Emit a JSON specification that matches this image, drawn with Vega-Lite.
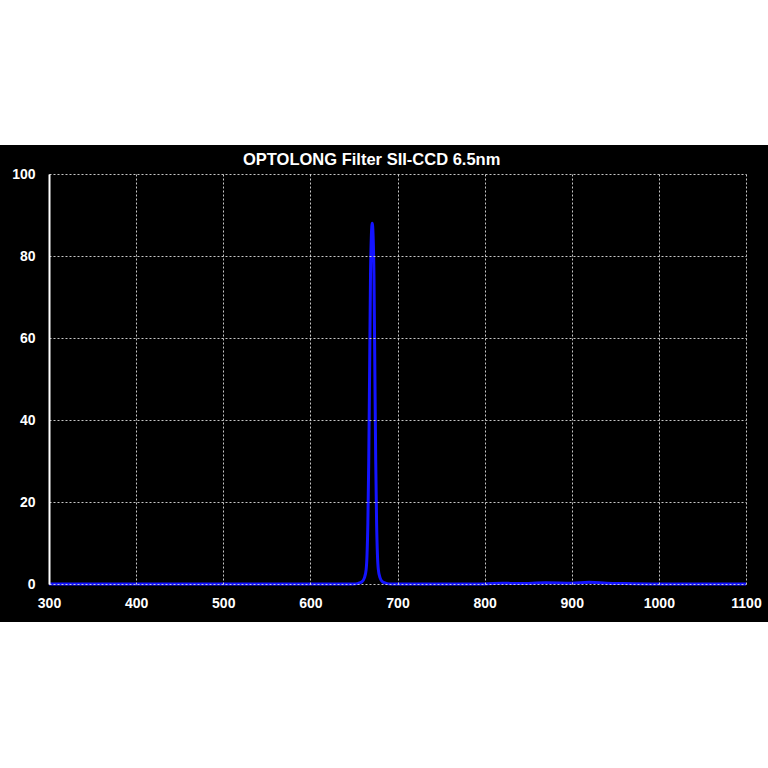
{
  "$schema": "https://vega.github.io/schema/vega-lite/v6.json",
  "autosize": {"type": "none"},
  "width": 697,
  "height": 410,
  "padding": {"left": 49, "top": 174, "right": 22, "bottom": 184},
  "background": "white",
  "title": {
    "text": "OPTOLONG Filter SII-CCD 6.5nm",
    "color": "white",
    "font": "Liberation Sans",
    "fontSize": 16.5,
    "fontWeight": "bold",
    "anchor": "start",
    "frame": "group",
    "dx": 194,
    "dy": 23,
    "baseline": "alphabetic",
    "offset": -13,
    "zindex": 2
  },
  "config": {
    "view": {"stroke": null},
    "axis": {
      "labelFont": "Liberation Sans",
      "labelFontSize": 14,
      "labelFontWeight": "bold",
      "labelColor": "white",
      "ticks": false,
      "grid": true,
      "gridColor": "#dddddd",
      "gridDash": [2, 2],
      "gridWidth": 1,
      "gridOpacity": 0.9,
      "title": null
    }
  },
  "data": {
    "values": [
      {"wl": 300, "t": 0},
      {"wl": 400, "t": 0},
      {"wl": 500, "t": 0},
      {"wl": 600, "t": 0},
      {"wl": 649, "t": 0},
      {"wl": 655, "t": 0.15},
      {"wl": 659, "t": 0.5},
      {"wl": 662, "t": 1.5},
      {"wl": 664, "t": 3.5},
      {"wl": 665, "t": 7},
      {"wl": 666, "t": 15},
      {"wl": 667, "t": 30},
      {"wl": 668, "t": 52},
      {"wl": 669, "t": 75},
      {"wl": 670, "t": 85},
      {"wl": 671, "t": 88},
      {"wl": 672, "t": 85},
      {"wl": 673, "t": 75},
      {"wl": 674, "t": 52},
      {"wl": 675, "t": 30},
      {"wl": 676, "t": 15},
      {"wl": 677, "t": 7},
      {"wl": 678, "t": 3.5},
      {"wl": 680, "t": 1.5},
      {"wl": 683, "t": 0.5},
      {"wl": 687, "t": 0.15},
      {"wl": 693, "t": 0},
      {"wl": 800, "t": 0},
      {"wl": 820, "t": 0.2},
      {"wl": 840, "t": 0.1},
      {"wl": 870, "t": 0.3},
      {"wl": 900, "t": 0.2},
      {"wl": 920, "t": 0.4},
      {"wl": 940, "t": 0.2},
      {"wl": 960, "t": 0.1},
      {"wl": 1000, "t": 0},
      {"wl": 1100, "t": 0}
    ]
  },
  "layer": [
    {
      "mark": {"type": "rect", "fill": "black", "clip": false},
      "encoding": {
        "x": {"datum": 240, "type": "quantitative"},
        "x2": {"datum": 1130},
        "y": {"datum": -9.27, "type": "quantitative"},
        "y2": {"datum": 107.07}
      }
    },
    {
      "mark": {"type": "line", "color": "#1414ff", "strokeWidth": 3, "interpolate": "monotone"},
      "encoding": {
        "x": {
          "field": "wl",
          "type": "quantitative",
          "scale": {"domain": [300, 1100], "nice": false, "zero": false},
          "axis": {"zindex": 1, "grid": true, "values": [300, 400, 500, 600, 700, 800, 900, 1000, 1100], "format": "d", "domain": false, "labelPadding": 12, "labelFlush": false}
        },
        "y": {
          "field": "t",
          "type": "quantitative",
          "scale": {"domain": [0, 100], "nice": false},
          "axis": {"zindex": 1, "grid": true, "values": [0, 20, 40, 60, 80, 100], "domain": true, "domainColor": "white", "domainWidth": 2, "labelPadding": 14}
        }
      }
    }
  ]
}
